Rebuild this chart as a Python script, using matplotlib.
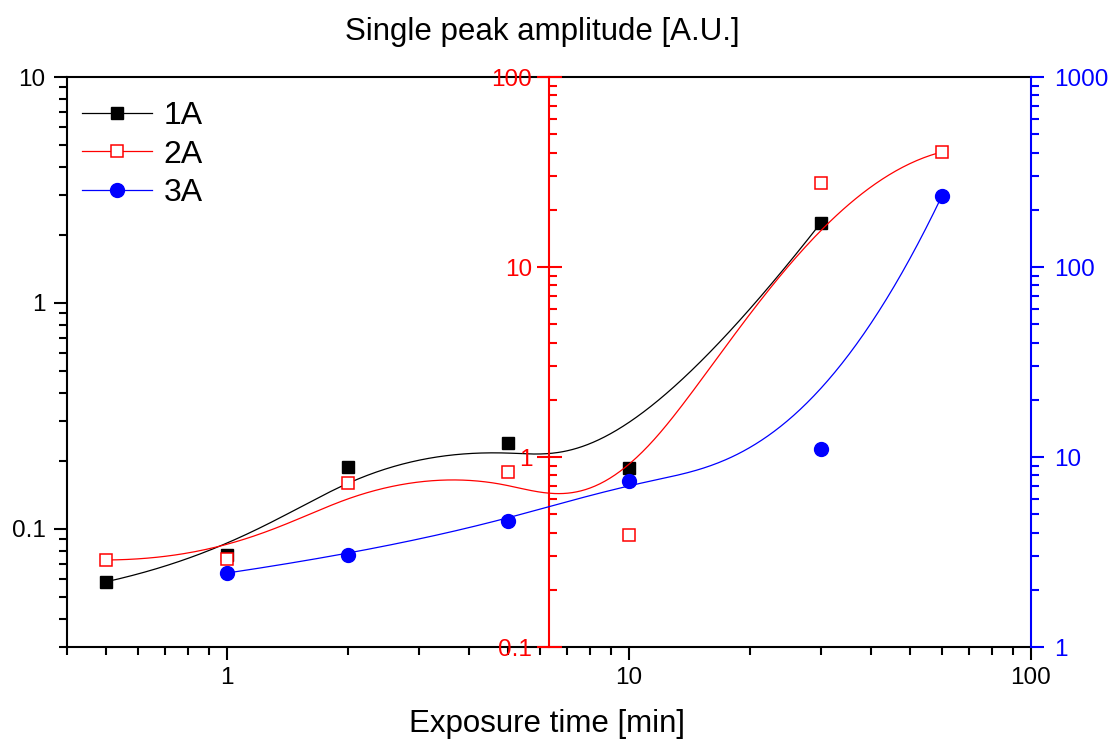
import numpy as np
import matplotlib.pyplot as plt
from matplotlib.lines import Line2D
from matplotlib.ticker import NullFormatter, LogLocator

plt.rcParams['font.family'] = ['Liberation Sans', 'DejaVu Sans']

# data
time_1a = [0.5, 1, 2, 5, 10, 30]
amp_1a = [0.0583, 0.0767, 0.188, 0.240, 0.186, 2.26]
time_2a = [0.5, 1, 2, 5, 10, 30, 60]
amp_2a = [0.287, 0.290, 0.73, 0.834, 0.388, 27.7, 40.3]
time_3a = [1, 2, 5, 10, 30, 60]
amp_3a = [2.45, 3.05, 4.60, 7.48, 11.0, 236]

RED = '#ff0000'
BLUE = '#0000ff'


def bspline(xs, ys, k=3, num=400):
    # clamped uniform B-spline with the points as control points (log-log space)
    px = np.log10(xs)
    py = np.log10(ys)
    n = len(px)
    k = min(k, n - 1)
    inner = np.linspace(0, 1, n - k + 1)
    knots = np.concatenate([np.zeros(k), inner, np.ones(k)])
    t = np.linspace(0, 1 - 1e-9, num)
    N = np.zeros((num, len(knots) - 1))
    for i in range(len(knots) - 1):
        N[:, i] = (t >= knots[i]) & (t < knots[i + 1])
    for d in range(1, k + 1):
        Nn = np.zeros((num, len(knots) - 1 - d))
        for i in range(len(knots) - 1 - d):
            a = knots[i + d] - knots[i]
            b = knots[i + d + 1] - knots[i + 1]
            term = np.zeros(num)
            if a > 0:
                term += (t - knots[i]) / a * N[:, i]
            if b > 0:
                term += (knots[i + d + 1] - t) / b * N[:, i + 1]
            Nn[:, i] = term
        N = Nn
    return 10 ** (N @ px), 10 ** (N @ py)


fig = plt.figure(figsize=(11.12, 7.47), dpi=100)
ax = fig.add_axes([67 / 1112, 100 / 747, 964 / 1112, 570 / 747])
ax_red = ax.twinx()
ax_blue = ax.twinx()

ax.set_xscale('log')
ax.set_xlim(0.4, 100)
ax.set_yscale('log')
ax.set_ylim(0.03, 10)
ax_red.set_yscale('log')
ax_red.set_ylim(0.1, 100)
ax_blue.set_yscale('log')
ax_blue.set_ylim(1, 1000)

# curves + markers
cx, cy = bspline(time_1a, amp_1a)
ax.plot(cx, cy, color='black', lw=0.9)
ax.plot(time_1a, amp_1a, 's', color='black', ms=9, ls='none')

cx, cy = bspline(time_2a, amp_2a)
ax_red.plot(cx, cy, color=RED, lw=0.9)
ax_red.plot(time_2a, amp_2a, 's', mfc='white', mec=RED, mew=1.1, ms=9, ls='none')

cx, cy = bspline(time_3a, amp_3a)
ax_blue.plot(cx, cy, color=BLUE, lw=0.9)
ax_blue.plot(time_3a, amp_3a, 'o', color=BLUE, ms=10, ls='none')

# main (black) axis
for s in ['left', 'bottom', 'top']:
    ax.spines[s].set_linewidth(1.5)
ax.spines['right'].set_visible(False)
ax.set_xticks([1, 10, 100], ['1', '10', '100'])
ax.xaxis.set_minor_locator(LogLocator(subs=np.arange(2, 10)))
ax.xaxis.set_minor_formatter(NullFormatter())
ax.set_yticks([0.1, 1, 10], ['0.1', '1', '10'])
ax.yaxis.set_minor_locator(LogLocator(subs=np.arange(2, 10)))
ax.yaxis.set_minor_formatter(NullFormatter())
ax.tick_params(axis='both', which='major', direction='out', length=9.5, width=1.5,
               labelsize=17.5)
ax.tick_params(axis='both', which='minor', direction='out', length=5.5, width=1.5)
ax.tick_params(axis='x', which='major', pad=5)
ax.tick_params(axis='y', which='major', pad=6)
ax.tick_params(top=False, which='both')

# red axis in the middle
for s in ['top', 'bottom', 'right']:
    ax_red.spines[s].set_visible(False)
ax_red.spines['left'].set_visible(True)
ax_red.spines['left'].set_position(('axes', 0.5))
ax_red.spines['left'].set_color(RED)
ax_red.spines['left'].set_linewidth(1.5)
ax_red.yaxis.tick_left()
ax_red.set_yticks([0.1, 1, 10, 100], ['0.1', '1', '10', '100'])
ax_red.yaxis.set_minor_locator(LogLocator(subs=np.arange(2, 10)))
ax_red.yaxis.set_minor_formatter(NullFormatter())
ax_red.tick_params(axis='y', which='major', direction='inout', length=18, width=1.5,
                   colors=RED, labelsize=17.5, pad=3)
ax_red.tick_params(axis='y', which='minor', direction='in', length=6, width=1.5,
                   colors=RED)

# blue axis on the right
for s in ['top', 'bottom', 'left']:
    ax_blue.spines[s].set_visible(False)
ax_blue.spines['right'].set_color(BLUE)
ax_blue.spines['right'].set_linewidth(1.5)
ax_blue.set_yticks([1, 10, 100, 1000], ['1', '10', '100', '1000'])
ax_blue.yaxis.set_minor_locator(LogLocator(subs=np.arange(2, 10)))
ax_blue.yaxis.set_minor_formatter(NullFormatter())
ax_blue.tick_params(axis='y', which='major', direction='out', length=9.5, width=1.5,
                    colors=BLUE, labelsize=17.5, pad=7)
ax_blue.tick_params(axis='y', which='minor', direction='out', length=5.5, width=1.5,
                    colors=BLUE)

handles = [
    Line2D([], [], color='black', lw=0.9, marker='s', ms=9),
    Line2D([], [], color=RED, lw=0.9, marker='s', mfc='white', mec=RED, mew=1.1, ms=9),
    Line2D([], [], color=BLUE, lw=0.9, marker='o', ms=10),
]
ax_blue.legend(handles, ['1A', '2A', '3A'], loc='upper left',
               bbox_to_anchor=(0.0156, 0.958), frameon=False, fontsize=23,
               handlelength=2.2, handletextpad=0.35, labelspacing=0.27,
               borderpad=0, borderaxespad=0, numpoints=1)

fig.text(542 / 1112, 1 - 40 / 747, 'Single peak amplitude [A.U.]', fontsize=22.5,
         ha='center', va='baseline')
fig.text(547 / 1112, 1 - 732 / 747, 'Exposure time [min]', fontsize=22.5,
         ha='center', va='baseline')

fig.savefig('out.png', dpi=100)
